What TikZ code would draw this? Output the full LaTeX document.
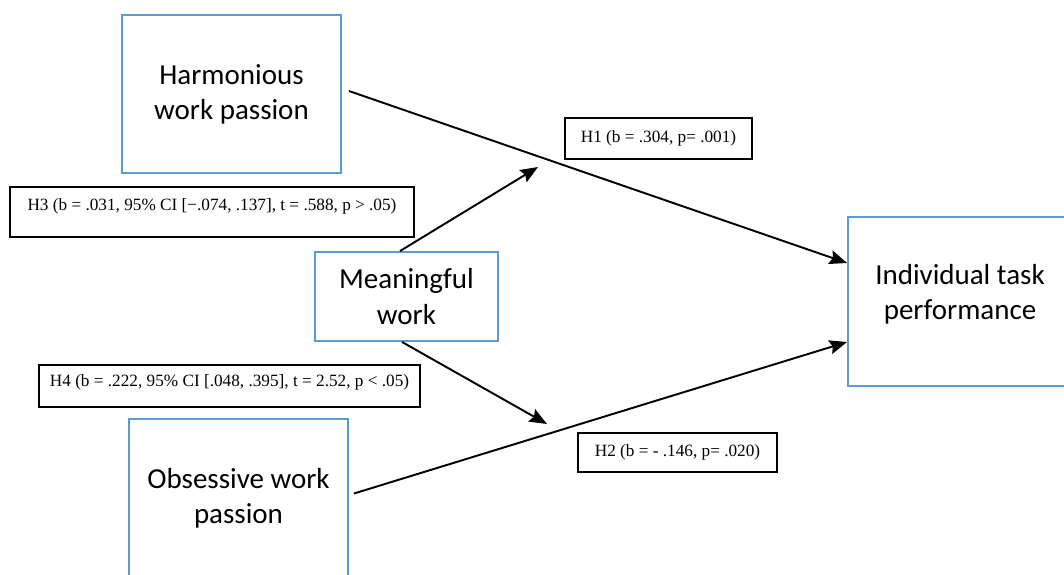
\documentclass[tikz,border=0pt]{standalone}
\usepackage{fontspec}
\setmainfont{Liberation Serif}
\newfontfamily\boxfont{Carlito}
\usetikzlibrary{arrows.meta}

\tikzset{
	varbox/.style={draw={rgb,255:red,91;green,155;blue,213}, line width=1.1pt, align=center,
		font=\boxfont\fontsize{16.5}{20}\selectfont, inner sep=0pt},
	hypbox/.style={draw=black, line width=0.6pt, align=center,
		font=\fontsize{9.8}{12}\selectfont, inner sep=0pt},
	path/.style={-{Stealth[length=10pt,width=8pt,inset=1.5pt]}, line width=1.1pt}
}

\begin{document}
\begin{tikzpicture}
				\useasboundingbox (0,0) rectangle (21.28,-11.48);
				\clip (0,0) rectangle (21.28,-11.48);
				% variables
				\node[varbox, minimum width=4.38cm, minimum height=3.16cm] (harm) at (4.63, -1.88) {Harmonious\\work passion};
				\node[varbox, minimum width=3.66cm, minimum height=1.78cm] (mean) at (8.13, -5.93) {Meaningful\\work};
				\node[varbox, minimum width=4.38cm, minimum height=3.16cm] (obs) at (4.77, -9.96) {Obsessive work\\passion};
				\node[varbox, minimum width=4.48cm, minimum height=3.38cm, text depth=0.38cm] (perf) at (19.2, -6.03) {Individual task\\performance};
				% hypotheses
				\node[hypbox, minimum width=3.74cm, minimum height=0.82cm] (h1) at (13.17, -2.77) {H1 (b = .304, p= .001)};
				\node[hypbox, minimum width=3.98cm, minimum height=0.78cm] (h2) at (13.55, -9.05) {H2 (b = - .146, p= .020)};
				\node[hypbox, minimum width=8.08cm, minimum height=1.0cm, text depth=0.31cm] (h3) at (4.24, -4.24) {H3 (b = .031, 95\% CI [−.074, .137], t = .588, p > .05)};
				\node[hypbox, minimum width=7.62cm, minimum height=0.84cm, text depth=0.22cm] (h4) at (4.59, -7.72) {H4 (b = .222, 95\% CI [.048, .395], t = 2.52, p < .05)};
				% free ends of the moderation arrows
				\coordinate (mtop) at (10.76, -3.34);
				\coordinate (mbot) at (10.94, -8.48);
				\draw[path] ([xshift=0.14cm, yshift=0.06cm]harm.east) to ([yshift=0.77cm]perf.west);
				\draw[path] ([xshift=0.1cm, yshift=0.09cm]obs.east) to ([yshift=-0.81cm]perf.west);
				\draw[path] ([xshift=-0.13cm]mean.north) to (mtop);
				\draw[path] ([xshift=-0.09cm]mean.south) to (mbot);
\end{tikzpicture}
\end{document}
